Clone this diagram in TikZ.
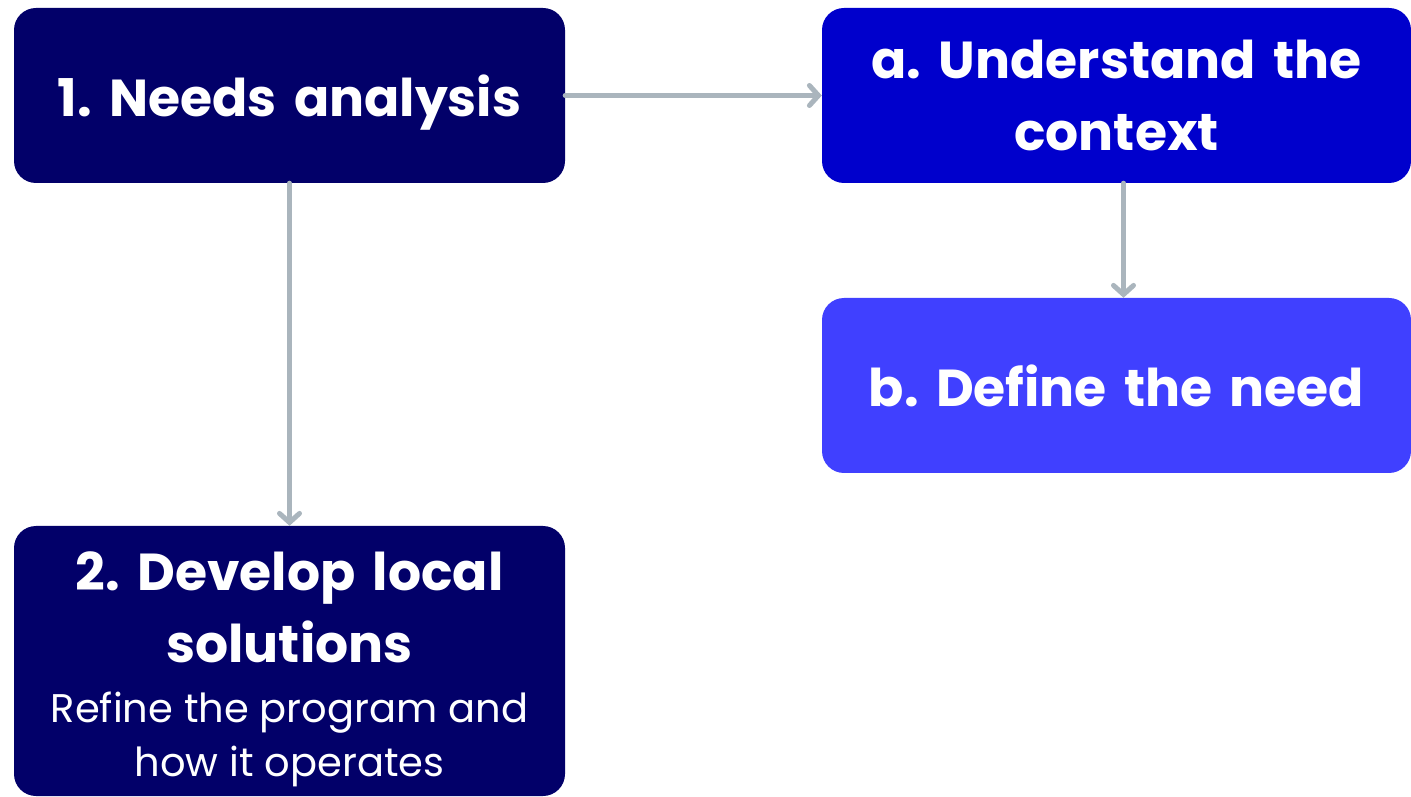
\documentclass[tikz,border=0pt]{standalone}
\usepackage{fontspec}
\setmainfont{Poppins}
\usetikzlibrary{arrows.meta,positioning}

% colours of the boxes and connectors
\definecolor{navybox}{HTML}{020069}
\definecolor{bluebox}{HTML}{0000CC}
\definecolor{lightbox}{HTML}{4040FF}
\definecolor{linkgray}{HTML}{AAB5BD}

\newcommand{\subline}{\fontsize{40}{54}\selectfont\mdseries\spaceskip=0.27em\relax}

\tikzset{
  stagebox/.style={rounded corners=22pt, inner sep=0pt, text=white,
    align=center, font=\frenchspacing\bfseries\fontsize{52}{72}\selectfont},
  mainbox/.style={stagebox, fill=navybox, minimum width=551pt, minimum height=175pt,
    text width=551pt},
  subbox/.style={stagebox, minimum width=589pt, minimum height=175pt,
    text width=589pt},
  link/.style={draw=linkgray, line width=5pt, line cap=round,
    -{Straight Barb[length=9pt,width=20pt,line width=5pt,line cap=round]}}
}

\begin{document}
\begin{tikzpicture}[x=1pt,y=1pt]

    % -- fix the page to the reference size --
    \useasboundingbox (0,0) rectangle (1411,796);

    % -- the four boxes --
    \node[mainbox, text depth=0pt] (needs) at (289.5,700.5) {1. Needs analysis};
    \node[subbox, fill=bluebox] (context) at (1116.5,700.5) {a. Understand the\\context};
    \node[subbox, fill=lightbox] (need) at (1116.5,410.5) {b. Define the need};
    \node[mainbox, minimum height=270pt, text height=64pt, text depth=206pt] (local) at (289.5,135)
      {2. Develop local\\solutions\par\vspace{6pt}
       {\subline Refine the program and\\how it operates\par}};

    % -- connectors --
    \draw[link] (needs.east) -- (context.west);
    \draw[link] (needs.south) -- (local.north);
    \draw[link] ([xshift=7pt]context.south) -- ([xshift=7pt]need.north);

\end{tikzpicture}
\end{document}
